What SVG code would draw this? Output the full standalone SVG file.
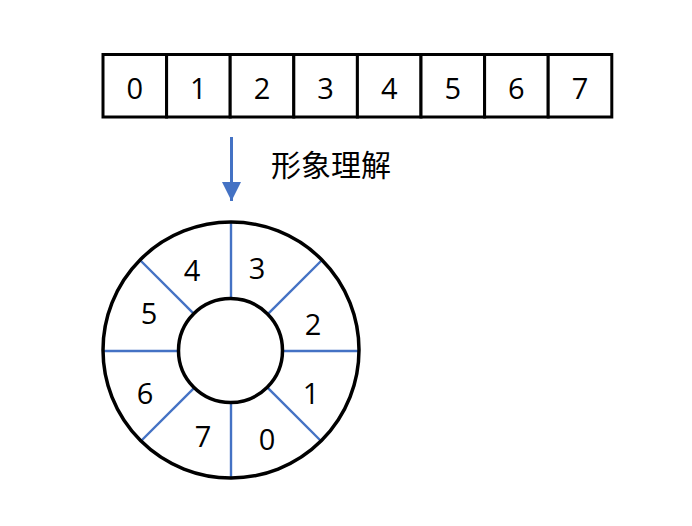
<svg xmlns="http://www.w3.org/2000/svg" width="692" height="526" viewBox="0 0 692 526">
<style>
.cell{fill:#fff;stroke:#000;stroke-width:3}
.num{font-family:"Open Sans","Liberation Sans",sans-serif;font-size:29px;fill:#000;text-anchor:middle;dominant-baseline:central}
.spoke{stroke:#4472C4;stroke-width:2.4}
.ring{fill:none;stroke:#000;stroke-width:3.5}
</style>
<defs>
<marker id="ah" viewBox="0 0 10 10" refX="10" refY="5" markerWidth="6.5" markerHeight="7" markerUnits="strokeWidth" orient="auto">
<path d="M0,0 L10,5 L0,10 Z" fill="#4472C4"/>
</marker>
</defs>
<rect width="692" height="526" fill="#fff"/>
<g id="array">
<rect class="cell" x="103" y="54.5" width="63.6" height="62.5"/>
<rect class="cell" x="166.6" y="54.5" width="63.6" height="62.5"/>
<rect class="cell" x="230.2" y="54.5" width="63.6" height="62.5"/>
<rect class="cell" x="293.8" y="54.5" width="63.6" height="62.5"/>
<rect class="cell" x="357.4" y="54.5" width="63.6" height="62.5"/>
<rect class="cell" x="421" y="54.5" width="63.6" height="62.5"/>
<rect class="cell" x="484.6" y="54.5" width="63.6" height="62.5"/>
<rect class="cell" x="548.2" y="54.5" width="63.6" height="62.5"/>
<text class="num" x="134.8" y="87">0</text>
<text class="num" x="198.4" y="87">1</text>
<text class="num" x="262" y="87">2</text>
<text class="num" x="325.6" y="87">3</text>
<text class="num" x="389.2" y="87">4</text>
<text class="num" x="452.8" y="87">5</text>
<text class="num" x="516.4" y="87">6</text>
<text class="num" x="580" y="87">7</text>
</g>
<g id="connectors">
<line x1="231.5" y1="137" x2="231.5" y2="201" stroke="#4472C4" stroke-width="3" marker-end="url(#ah)"/>
</g>
<g id="label">
<text x="271" y="163" font-family="'Noto Sans CJK SC',sans-serif" font-size="30" dominant-baseline="central" fill="#000">形象理解</text>
</g>
<g id="ring">
<circle cx="231" cy="350" r="128" fill="#fff" stroke="none"/>
<g>
<line class="spoke" x1="231" y1="222" x2="231" y2="298"/>
<line class="spoke" x1="231" y1="402" x2="231" y2="478"/>
<line class="spoke" x1="103" y1="351" x2="179" y2="351"/>
<line class="spoke" x1="283" y1="351" x2="359" y2="351"/>
<line class="spoke" x1="321.5" y1="260.5" x2="267.8" y2="314.2"/>
<line class="spoke" x1="140.5" y1="260.5" x2="194.2" y2="314.2"/>
<line class="spoke" x1="321.5" y1="441.5" x2="267.8" y2="387.8"/>
<line class="spoke" x1="140.5" y1="441.5" x2="194.2" y2="387.8"/>
</g>
<circle class="ring" cx="231" cy="350" r="128"/>
<circle class="ring" cx="230.5" cy="350.5" r="52"/>
<text class="num" x="257" y="267">3</text>
<text class="num" x="192" y="269">4</text>
<text class="num" x="313" y="323">2</text>
<text class="num" x="149" y="312">5</text>
<text class="num" x="145" y="392">6</text>
<text class="num" x="311" y="392">1</text>
<text class="num" x="203" y="435">7</text>
<text class="num" x="267" y="438">0</text>
</g>
</svg>
